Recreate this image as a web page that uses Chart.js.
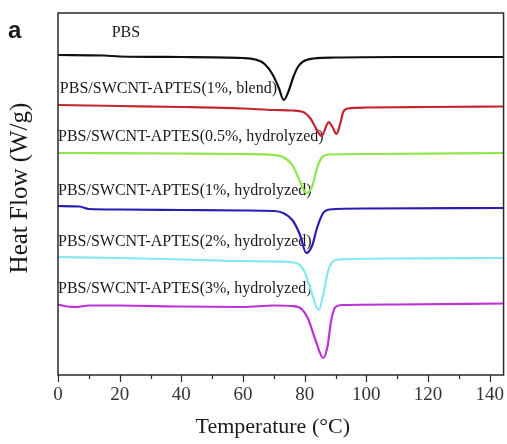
<!DOCTYPE html>
<html>
<head>
<meta charset="utf-8">
<script src="https://cdn.jsdelivr.net/npm/chart.js@4/dist/chart.umd.min.js"></script>
<style>
  html, body { margin: 0; padding: 0; background: #fff; }
  #wrap { width: 507px; height: 444px; }
</style>
</head>
<body>
<div id="wrap"><canvas id="c" width="507" height="444"></canvas></div>
<script>
// ---- Data (temperature in °C, heat flow in arbitrary offset units) ----
const xTicks = [0, 20, 40, 60, 80, 100, 120, 140];

const seriesNames = [
  "PBS",
  "PBS/SWCNT-APTES(1%, blend)",
  "PBS/SWCNT-APTES(0.5%, hydrolyzed)",
  "PBS/SWCNT-APTES(1%, hydrolyzed)",
  "PBS/SWCNT-APTES(2%, hydrolyzed)",
  "PBS/SWCNT-APTES(3%, hydrolyzed)"
];

const tPBS = [0, 15, 20, 40, 60, 64, 67, 69.5, 71.5, 73.2, 74.8, 76.2, 77.8, 79.5, 83, 90, 110, 144.5];
const hPBS = [32.0, 31.95, 31.85, 31.8, 31.7, 31.55, 31.1, 30.1, 28.8, 27.5, 28.4, 29.7, 30.8, 31.35, 31.65, 31.75, 31.8, 31.8];

const tBlend1 = [0, 20, 40, 60, 70, 76, 79.5, 82, 83.8, 85.5, 87, 87.8, 89, 90.3, 91.5, 92.5, 94, 100, 120, 144.5];
const hBlend1 = [27.0, 26.9, 26.8, 26.65, 26.5, 26.45, 26.3, 25.6, 24.6, 23.9, 24.9, 25.3, 24.8, 24.1, 25.1, 26.3, 26.65, 26.75, 26.8, 26.85];

const tHyd05 = [0, 40, 60, 70, 73, 76, 78, 80.5, 82.5, 84, 85.5, 88, 100, 144.5];
const hHyd05 = [22.2, 22.15, 22.1, 22.0, 21.8, 21.0, 19.7, 18.2, 18.9, 20.7, 21.7, 22.05, 22.1, 22.2];

const tHyd1 = [0, 7, 10, 20, 40, 60, 70, 73, 76, 78.5, 80.5, 82.5, 84, 86, 88, 100, 144.5];
const hHyd1 = [16.9, 16.85, 16.6, 16.55, 16.5, 16.45, 16.4, 16.2, 15.5, 14.0, 12.2, 13.0, 14.7, 16.2, 16.55, 16.65, 16.7];

const tHyd2 = [0, 20, 40, 60, 75, 78, 80, 82, 84.5, 86, 87.5, 89, 91, 110, 144.5];
const hHyd2 = [11.8, 11.7, 11.55, 11.4, 11.3, 11.1, 10.3, 8.5, 6.5, 8.0, 10.3, 11.3, 11.55, 11.65, 11.7];

const tHyd3 = [0, 3, 6, 10, 20, 40, 60, 70, 76, 79, 81, 83.5, 86, 87.5, 88.5, 90, 92, 110, 144.5];
const hHyd3 = [7.05, 6.85, 6.8, 6.95, 6.95, 6.85, 6.8, 6.95, 6.9, 6.6, 5.7, 3.5, 1.7, 3.0, 5.3, 6.8, 7.0, 7.05, 7.15];

// label anchor points (temperature, heat flow) for the curve names
const labelT = [17.4, 0.6, 0, 0, 0, 0];
const labelH = [34.2, 28.6, 23.8, 18.4, 13.3, 8.6];

const colors = ["#111111", "#c4262e", "#8ee64a", "#2a1db3", "#84e8ee", "#bd31d6"];

// ---- Build chart ----
const tempArrays = [tPBS, tBlend1, tHyd05, tHyd1, tHyd2, tHyd3];
const heatArrays = [hPBS, hBlend1, hHyd05, hHyd1, hHyd2, hHyd3];

const datasets = seriesNames.map((name, i) => ({
  label: name,
  data: tempArrays[i].map((t, j) => ({ x: t, y: heatArrays[i][j] })),
  borderColor: colors[i],
  borderWidth: 2.2,
  pointRadius: 0,
  fill: false,
  cubicInterpolationMode: 'monotone'
}));

const serif = "'Liberation Serif', 'Times New Roman', serif";

const framePlugin = {
  id: 'frame',
  beforeDatasetsDraw(chart) {
    const ctx = chart.ctx;
    const xs = chart.scales.x, ys = chart.scales.y;
    ctx.save();
    ctx.fillStyle = '#1a1a1a';
    ctx.font = "16px " + serif;
    ctx.textBaseline = 'middle';
    ctx.textAlign = 'left';
    seriesNames.forEach((name, i) => {
      ctx.fillText(name, xs.getPixelForValue(labelT[i]), ys.getPixelForValue(labelH[i]));
    });
    ctx.restore();
  },
  afterDraw(chart) {
    const ctx = chart.ctx;
    const a = chart.chartArea;
    const xs = chart.scales.x;
    ctx.save();
    ctx.strokeStyle = '#2a2a2a';
    ctx.lineWidth = 1.5;
    ctx.strokeRect(a.left, a.top, a.right - a.left, a.bottom - a.top);
    ctx.lineWidth = 1.2;
    ctx.beginPath();
    for (let v = 0; v <= 140; v += 10) {
      const px = Math.round(xs.getPixelForValue(v)) + 0.5;
      const len = (v % 20 === 0) ? 7 : 4;
      ctx.moveTo(px, a.bottom);
      ctx.lineTo(px, a.bottom + len);
    }
    ctx.stroke();

    // axis titles and panel letter
    ctx.fillStyle = '#1a1a1a';
    ctx.textAlign = 'center';
    ctx.textBaseline = 'alphabetic';
    ctx.font = "22px " + serif;
    ctx.fillText("Temperature (\u00B0C)", (a.left + a.right) / 2 - 8, 433);

    ctx.save();
    ctx.translate(27, 188);
    ctx.rotate(-Math.PI / 2);
    ctx.font = "25px " + serif;
    ctx.textBaseline = 'alphabetic';
    ctx.fillText("Heat Flow (W/g)", 0, 0);
    ctx.restore();

    ctx.font = "bold 24px 'Liberation Sans', Arial, sans-serif";
    ctx.textAlign = 'left';
    ctx.fillText("a", 8, 38);
    ctx.restore();
  }
};

new Chart(document.getElementById('c'), {
  type: 'line',
  data: { datasets },
  options: {
    responsive: false,
    animation: false,
    devicePixelRatio: 1,
    layout: { padding: { left: 58, top: 13, right: 2, bottom: 0 } },
    plugins: { legend: { display: false }, tooltip: { enabled: false } },
    scales: {
      x: {
        type: 'linear',
        min: 0,
        max: 144.5,
        afterBuildTicks(scale) {
          scale.ticks = xTicks.map(v => ({ value: v }));
        },
        afterFit(scale) { scale.height = 69; },
        border: { display: false },
        grid: { drawOnChartArea: false, drawTicks: true, tickLength: 6, color: 'transparent', tickColor: 'transparent' },
        ticks: {
          color: '#333',
          font: { family: serif, size: 19 },
          padding: 3,
          maxRotation: 0,
          autoSkip: false
        }
      },
      y: {
        type: 'linear',
        display: false,
        min: 0,
        max: 36.2
      }
    }
  },
  plugins: [framePlugin]
});
</script>
</body>
</html>
